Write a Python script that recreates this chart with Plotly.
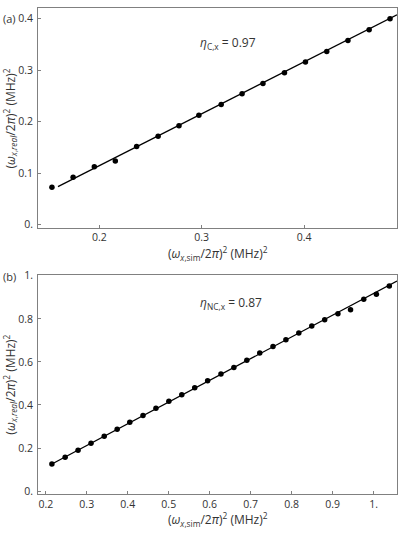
import plotly.graph_objects as go

# Panel (a) data
xa = [0.1537, 0.1744, 0.1951, 0.2156, 0.2364, 0.2574, 0.2778, 0.2972, 0.3190,
      0.3394, 0.3598, 0.3808, 0.4013, 0.4221, 0.4428, 0.4635, 0.4839]
ya = [0.0723, 0.0920, 0.1125, 0.1234, 0.1514, 0.1714, 0.1917, 0.2122, 0.2333,
      0.2538, 0.2741, 0.2946, 0.3157, 0.3362, 0.3573, 0.3784, 0.3995]
fit_a_x = [0.1596, 0.4907]
fit_a_slope, fit_a_icpt = 1.008, -0.0873

# Panel (b) data
xb = [0.2150, 0.2473, 0.2788, 0.3104, 0.3426, 0.3742, 0.4050, 0.4372, 0.4688,
      0.5003, 0.5318, 0.5634, 0.5949, 0.6274, 0.6589, 0.6905, 0.7220, 0.7543,
      0.7858, 0.8173, 0.8489, 0.8804, 0.9127, 0.9435, 0.9757, 1.0065, 1.0381]
yb = [0.1255, 0.1575, 0.1896, 0.2216, 0.2550, 0.2871, 0.3191, 0.3512, 0.3846,
      0.4167, 0.4473, 0.4794, 0.5128, 0.5435, 0.5742, 0.6076, 0.6410, 0.6717,
      0.7024, 0.7344, 0.7665, 0.7953, 0.8242, 0.8425, 0.8915, 0.9144, 0.9524]
fit_b_x = [0.2150, 1.0568]
fit_b_slope, fit_b_icpt = 1.010, -0.0917

# Tick labels
xa_ticks = [0.2, 0.3, 0.4]
xa_text = ["0.2", "0.3", "0.4"]
ya_ticks = [0.0, 0.1, 0.2, 0.3, 0.4]
ya_text = ["0.", "0.1", "0.2", "0.3", "0.4"]
xb_ticks = [0.2, 0.3, 0.4, 0.5, 0.6, 0.7, 0.8, 0.9, 1.0]
xb_text = ["0.2", "0.3", "0.4", "0.5", "0.6", "0.7", "0.8", "0.9", "1."]
yb_ticks = [0.0, 0.2, 0.4, 0.6, 0.8, 1.0]
yb_text = ["0.", "0.2", "0.4", "0.6", "0.8", "1."]

FONT = "Open Sans"
TXT = "#333333"
FRAME = "#808080"

fig = go.Figure()

fig.add_trace(go.Scatter(
    x=fit_a_x, y=[fit_a_slope * v + fit_a_icpt for v in fit_a_x],
    mode="lines", line=dict(color="black", width=1.3),
    xaxis="x", yaxis="y", showlegend=False))
fig.add_trace(go.Scatter(
    x=xa, y=ya, mode="markers", marker=dict(color="black", size=5.5),
    xaxis="x", yaxis="y", showlegend=False, cliponaxis=False))

fig.add_trace(go.Scatter(
    x=fit_b_x, y=[fit_b_slope * v + fit_b_icpt for v in fit_b_x],
    mode="lines", line=dict(color="black", width=1.3),
    xaxis="x2", yaxis="y2", showlegend=False))
fig.add_trace(go.Scatter(
    x=xb, y=yb, mode="markers", marker=dict(color="black", size=5.5),
    xaxis="x2", yaxis="y2", showlegend=False, cliponaxis=False))

axis_common = dict(
    showline=True, mirror=True, linecolor=FRAME, linewidth=1,
    ticks="inside", ticklen=3, tickcolor=FRAME, tickwidth=1,
    showgrid=False, zeroline=False,
    tickfont=dict(family=FONT, size=10.5, color=TXT),
)

fig.update_layout(
    width=399, height=533,
    margin=dict(l=38, r=1, t=1, b=39),
    paper_bgcolor="white", plot_bgcolor="white",
    font=dict(family=FONT, color=TXT),
    xaxis=dict(domain=[0, 1], range=[0.1401, 0.4907], anchor="y",
               tickvals=xa_ticks, ticktext=xa_text, **axis_common),
    yaxis=dict(domain=[0.5477, 1.0], range=[-0.0063, 0.4205], anchor="x",
               tickvals=ya_ticks, ticktext=ya_text, ticklabelstandoff=2,
               **axis_common),
    xaxis2=dict(domain=[0, 1], range=[0.1811, 1.0568], anchor="y2",
                tickvals=xb_ticks, ticktext=xb_text, **axis_common),
    yaxis2=dict(domain=[0, 0.4503], range=[-0.0137, 1.003], anchor="x2",
                tickvals=yb_ticks, ticktext=yb_text, ticklabelstandoff=2,
                **axis_common),
)

xtitle = "(<i>ω</i><sub><i>x</i>,sim</sub>/2<i>π</i>)<sup>2</sup> (MHz)<sup>2</sup>"
ytitle = "(<i>ω</i><sub><i>x</i>,<i>real</i></sub>/2<i>π</i>)<sup>2</sup> (MHz)<sup>2</sup>"

TF = dict(family=FONT, size=12, color=TXT)
ann = []
# x titles
for yp in [250, 520]:
    ann.append(dict(text=xtitle, xref="paper", yref="paper", x=(218 - 38) / 360,
                    y=(494 - yp) / 493, showarrow=False,
                    xanchor="center", yanchor="middle", font=TF))
# y titles
for yc in [113, 383]:
    ann.append(dict(text=ytitle, xref="paper", yref="paper", x=(10 - 38) / 360,
                    y=(494 - yc) / 493, showarrow=False,
                    xanchor="center", yanchor="middle", textangle=-90, font=TF))
# panel labels
for lab, yp in [("(a)", 12), ("(b)", 273)]:
    ann.append(dict(text=lab, xref="paper", yref="paper", x=(1 - 38) / 360,
                    y=(494 - yp) / 493, showarrow=False,
                    xanchor="left", yanchor="middle",
                    font=dict(family=FONT, size=11, color=TXT)))
# eta annotations
ann.append(dict(text="<i>η</i><sub>C,x</sub> = 0.97", xref="paper", yref="paper",
                x=(198 - 38) / 360, y=(494 - 37) / 493,
                showarrow=False, xanchor="left", yanchor="middle", font=TF))
ann.append(dict(text="<i>η</i><sub>NC,x</sub> = 0.87", xref="paper", yref="paper",
                x=(198 - 38) / 360, y=(494 - 300) / 493,
                showarrow=False, xanchor="left", yanchor="middle", font=TF))
fig.update_layout(annotations=ann)

fig.write_html("out.html", config={"displayModeBar": False},
               post_script="document.body.style.margin='0';document.body.style.overflow='hidden';")
